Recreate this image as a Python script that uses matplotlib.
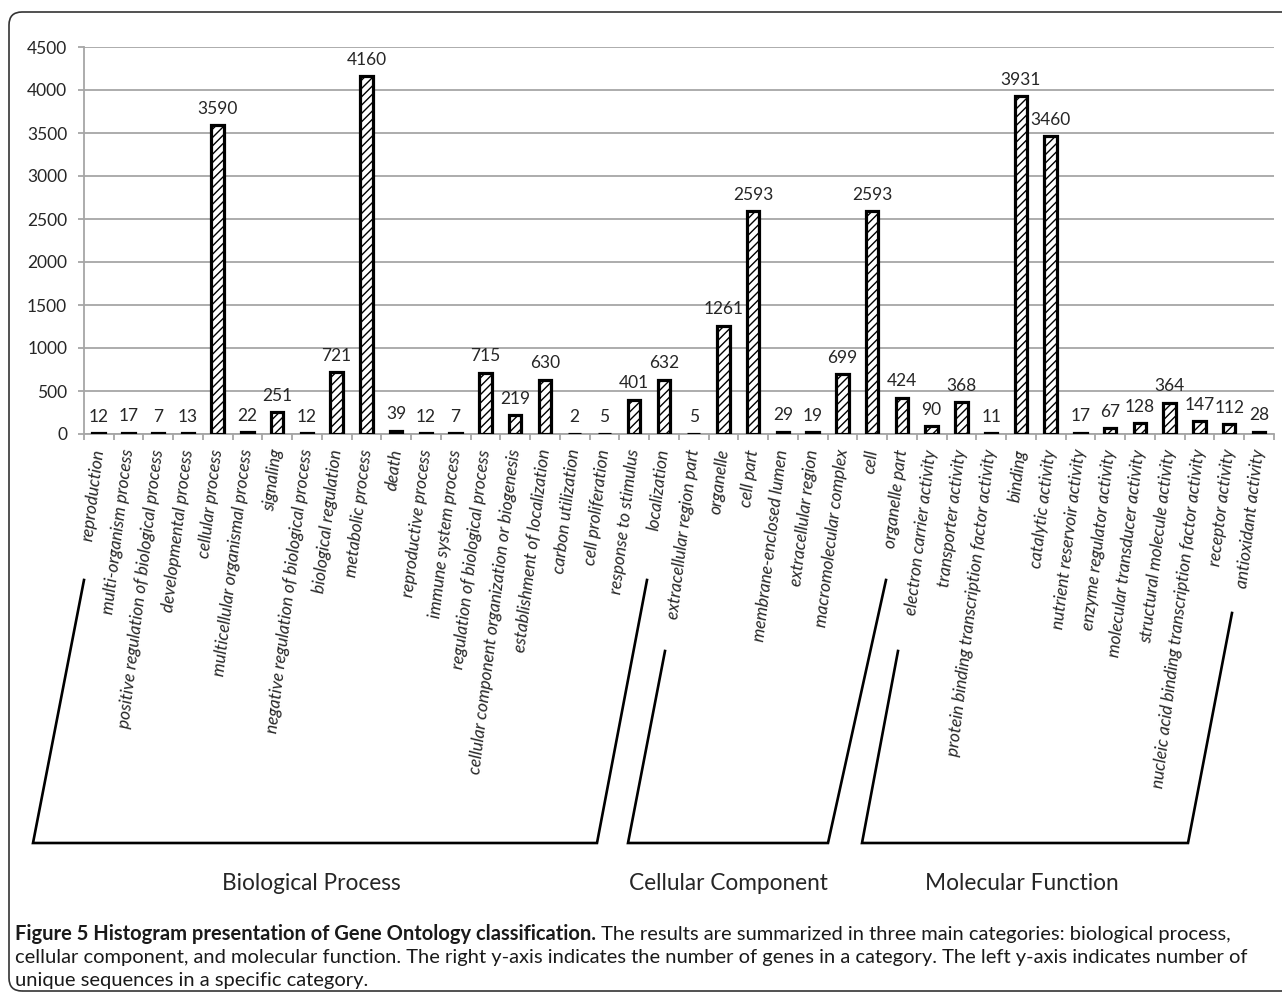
import numpy as np
import matplotlib
matplotlib.use("Agg")
import matplotlib.pyplot as plt
from matplotlib.patches import FancyBboxPatch
from matplotlib.lines import Line2D

# GO terms and unique-sequence counts per main category
bp_terms = [
    "reproduction", "multi-organism process", "positive regulation of biological process",
    "developmental process", "cellular process", "multicellular organismal process",
    "signaling", "negative regulation of biological process", "biological regulation",
    "metabolic process", "death", "reproductive process", "immune system process",
    "regulation of biological process", "cellular component organization or biogenesis",
    "establishment of localization", "carbon utilization", "cell proliferation",
    "response to stimulus", "localization",
]
bp_counts = [12, 17, 7, 13, 3590, 22, 251, 12, 721, 4160,
             39, 12, 7, 715, 219, 630, 2, 5, 401, 632]

cc_terms = [
    "extracellular region part", "organelle", "cell part", "membrane-enclosed lumen",
    "extracellular region", "macromolecular complex", "cell", "organelle part",
]
cc_counts = [5, 1261, 2593, 29, 19, 699, 2593, 424]

mf_terms = [
    "electron carrier activity", "transporter activity",
    "protein binding transcription factor activity", "binding", "catalytic activity",
    "nutrient reservoir activity", "enzyme regulator activity",
    "molecular transducer activity", "structural molecule activity",
    "nucleic acid binding transcription factor activity", "receptor activity",
    "antioxidant activity",
]
mf_counts = [90, 368, 11, 3931, 3460, 17, 67, 128, 364, 147, 112, 28]

group_names = ["Biological Process", "Cellular Component", "Molecular Function"]
y_ticks = [0, 500, 1000, 1500, 2000, 2500, 3000, 3500, 4000, 4500]

caption_head = "Figure 5 Histogram presentation of Gene Ontology classification."
caption_lines = [
    " The results are summarized in three main categories: biological process,",
    "cellular component, and molecular function. The right y-axis indicates the number of genes in a category. The left y-axis indicates number of",
    "unique sequences in a specific category.",
]

W, H = 1282, 994
plt.rcParams['font.family'] = ['Lato', 'DejaVu Sans']
CAP_FONT = ['Liberation Sans Narrow', 'Lato', 'DejaVu Sans']
fig = plt.figure(figsize=(W / 100, H / 100), dpi=100)


def fx(px):
    return px / W


def fy(py):
    return 1 - py / H


GRID = '#a6a6a6'
TXT = '#262626'

ax = fig.add_axes([fx(83.8), fy(434), 1190 / W, 387 / H])
terms = bp_terms + cc_terms + mf_terms
counts = bp_counts + cc_counts + mf_counts
x = np.arange(len(terms))

bars = ax.bar(x, counts, width=0.42, color='white', edgecolor='black',
              hatch='////', linewidth=2.3, zorder=3)
ax.bar_label(bars, padding=6, fontsize=12.5, color=TXT)

ax.set_xlim(-0.5, len(terms) - 0.5)
ax.set_ylim(0, 4500)
ax.set_yticks(y_ticks)
ax.set_axisbelow(True)
ax.yaxis.grid(True, color=GRID, linewidth=1.3)

for side in ('top', 'right'):
    ax.spines[side].set_visible(False)
for side in ('left', 'bottom'):
    ax.spines[side].set_color(GRID)
    ax.spines[side].set_linewidth(1.3)

ax.tick_params(axis='y', length=4, width=1.3, color=GRID, pad=8,
               labelsize=12.5, labelcolor=TXT)
ax.set_xticks(x)
ax.set_xticklabels(terms, rotation=83, ha='right', va='center',
                   rotation_mode='anchor', fontstyle='italic', fontsize=12.4)
ax.set_xticks(np.arange(-0.5, len(terms), 1), minor=True)
ax.tick_params(axis='x', which='major', length=0, pad=11, labelcolor=TXT)
ax.tick_params(axis='x', which='minor', length=4, width=1.3, color=GRID)

# category brackets below the term labels
brackets = [
    [(84, 580), (33, 843), (597, 843), (647, 580)],
    [(665, 651), (628, 843), (828, 843), (886, 580)],
    [(898, 651), (862, 843), (1188, 843), (1232, 613)],
]
for pts in brackets:
    xs = [fx(p[0]) for p in pts]
    ys = [fy(p[1]) for p in pts]
    fig.add_artist(Line2D(xs, ys, color='black', linewidth=1.9,
                          solid_joinstyle='miter'))

group_x = [311, 728, 1022]
for name, gx in zip(group_names, group_x):
    fig.text(fx(gx), fy(884), name, ha='center', va='center',
             fontsize=16.3, color=TXT)

# rounded frame around the figure panel
frame = FancyBboxPatch((0.09, 0.03), 13.1, 9.79,
                       boxstyle='round,pad=0,rounding_size=0.13',
                       transform=fig.dpi_scale_trans, facecolor='none',
                       edgecolor='#333333', linewidth=1.2)
fig.add_artist(frame)

# caption, sized so the second line spans the panel width
renderer = fig.canvas.get_renderer()
probe = fig.text(0, 0, caption_lines[1], fontsize=12, family=CAP_FONT)
w = probe.get_window_extent(renderer).width
probe.remove()
cap_size = 12 * (1229 / w)

head = fig.text(fx(15), fy(940), caption_head, fontsize=cap_size,
                family=CAP_FONT, fontweight='bold', color='#1a1a1a',
                va='baseline')
hw = head.get_window_extent(renderer).width
fig.text(fx(15 + hw), fy(940), caption_lines[0], fontsize=cap_size,
         family=CAP_FONT, color='#1a1a1a', va='baseline')
fig.text(fx(15), fy(963), caption_lines[1], fontsize=cap_size,
         family=CAP_FONT, color='#1a1a1a', va='baseline')
fig.text(fx(15), fy(986), caption_lines[2], fontsize=cap_size,
         family=CAP_FONT, color='#1a1a1a', va='baseline')

fig.savefig('out.png', dpi=100)
